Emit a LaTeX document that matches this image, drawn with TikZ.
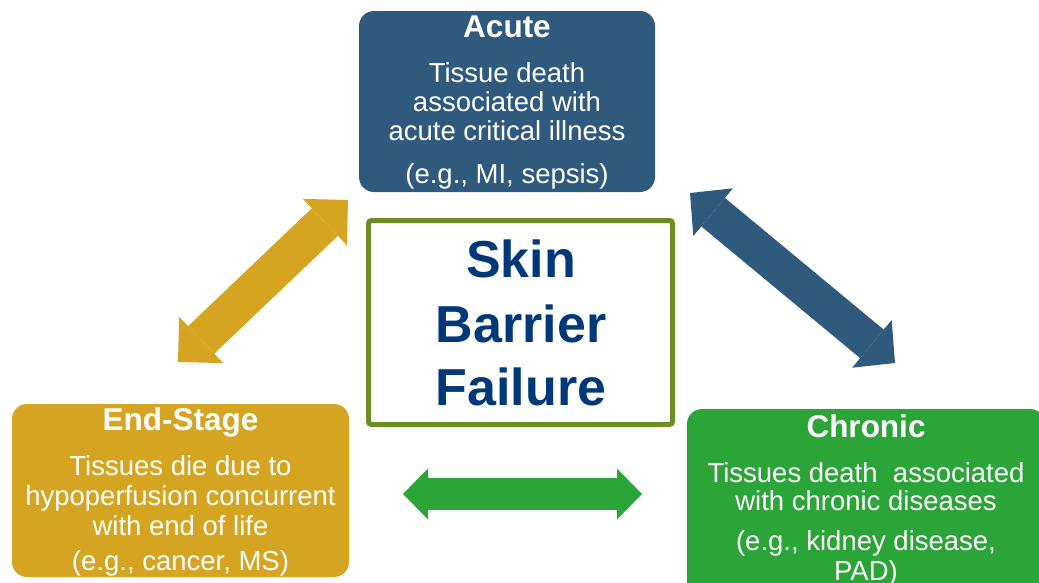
\documentclass[tikz,border=0pt]{standalone}
\usepackage{fontspec}
\setmainfont{Liberation Sans}
\usetikzlibrary{arrows.meta}
\definecolor{acuteblue}{HTML}{2F5A7E}
\definecolor{stagegold}{HTML}{D5A521}
\definecolor{chrongreen}{HTML}{2BA537}
\definecolor{olivebord}{HTML}{6B8E23}
\definecolor{navytext}{HTML}{00387A}
\begin{document}
\begin{tikzpicture}[x=1pt,y=-1pt]
\tikzset{
  card/.style={rectangle, rounded corners=15pt, inner sep=0pt, draw=none},
  ttl/.style={anchor=base, text=white, inner sep=0pt, font=\fontsize{31.5}{36}\selectfont\bfseries},
  body/.style={anchor=base, text=white, inner sep=0pt, font=\fontsize{27.5}{31}\selectfont},
  core/.style={anchor=base, text=navytext, inner sep=0pt, font=\fontsize{52}{60}\selectfont\bfseries},
  fatarrow/.style n args={4}{line width=#1, draw=#2,
    {Triangle[length=#3,width=#4,line width=0pt]}-{Triangle[length=#3,width=#4,line width=0pt]}}
}
\useasboundingbox (0,0) rectangle (1039,582);

% Acute
\node[card, fill=acuteblue, minimum width=296pt, minimum height=181pt] (acute) at (507,101.5) {};
\node[ttl]  (acuteT) at (507,37)  {Acute};
\node[body] (acute1) at (507,82)  {Tissue death};
\node[body] (acute2) at (507,111) {associated with};
\node[body] (acute3) at (507,140) {acute critical illness};
\node[body] (acute4) at (507,183) {(e.g., MI, sepsis)};

% End-Stage
\node[card, fill=stagegold, minimum width=337pt, minimum height=173pt] (endst) at (180.5,490.5) {};
\node[ttl]  (endT) at (180.5,430) {End-Stage};
\node[body] (end1) at (180.5,475) {Tissues die due to};
\node[body] (end2) at (180.5,505) {hypoperfusion concurrent};
\node[body] (end3) at (180.5,535) {with end of life};
\node[body] (end4) at (180.5,570) {(e.g., cancer, MS)};

% Chronic
\node[card, fill=chrongreen, minimum width=358pt, minimum height=191pt] (chron) at (866,504.5) {};
\node[ttl]  (chrT) at (866,437) {Chronic};
\node[body] (chr1) at (866,482) {Tissues death\ \ associated};
\node[body] (chr2) at (866,510) {with chronic diseases};
\node[body] (chr3) at (866,550) {(e.g., kidney disease,};
\node[body] (chr4) at (866,580) {PAD)};

% Center
\node[rectangle, draw=olivebord, fill=white, line width=5pt, rounded corners=3pt,
      minimum width=304pt, minimum height=204pt, inner sep=0pt] (center) at (520.5,322.5) {};
\node[core] (c1) at (521,277) {Skin};
\node[core] (c2) at (521,342) {Barrier};
\node[core] (c3) at (521,405) {Failure};

% Arrows
\coordinate (g1) at (348,200);
\coordinate (g2) at (178,362);
\draw[fatarrow={38pt}{stagegold}{32pt}{64pt}] (g2) -- (g1);

\coordinate (b1) at (690,193);
\coordinate (b2) at (895,363);
\draw[fatarrow={37pt}{acuteblue}{30pt}{62pt}] (b1) -- (b2);

\coordinate (h1) at (403,494);
\coordinate (h2) at (642,494);
\draw[fatarrow={32pt}{chrongreen}{25pt}{51pt}] (h1) -- (h2);
\end{tikzpicture}
\end{document}
